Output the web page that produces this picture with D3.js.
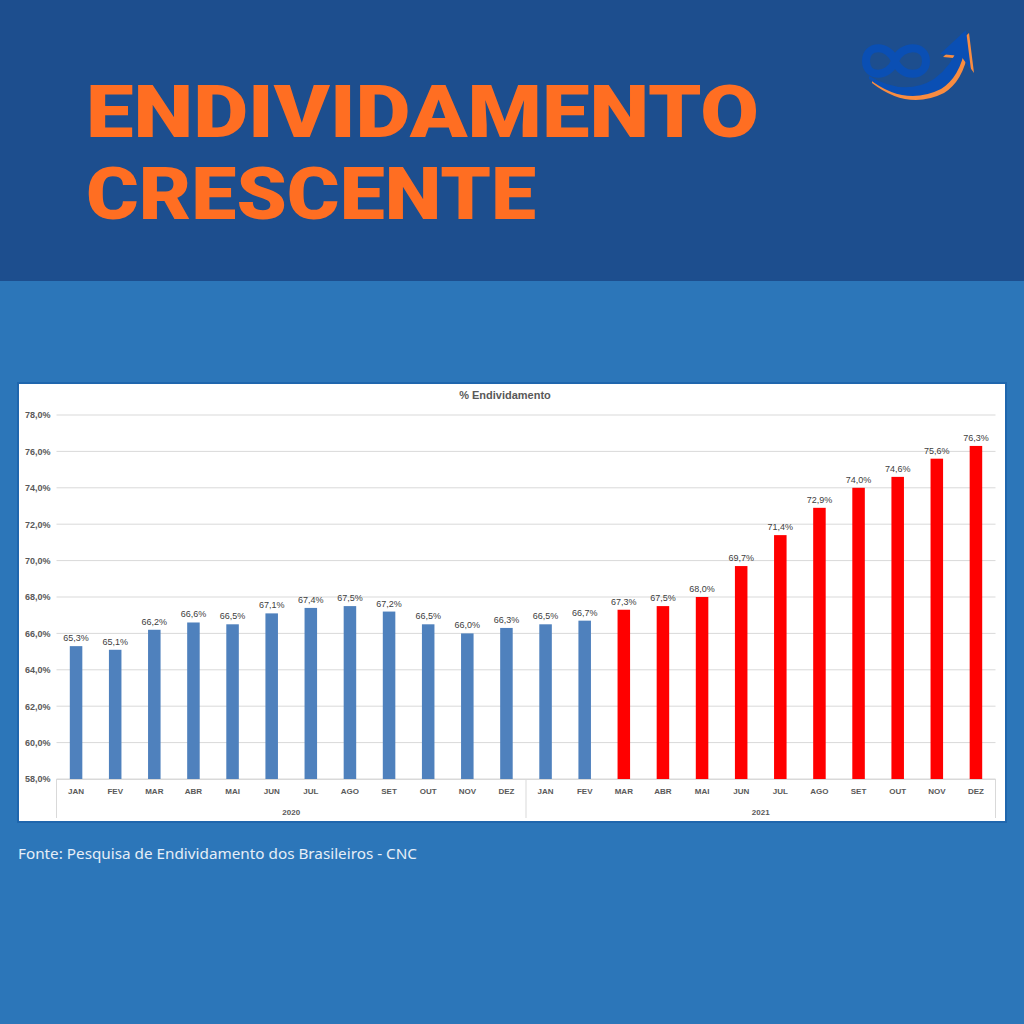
<!DOCTYPE html>
<html>
<head>
<meta charset="utf-8">
<script src="https://cdn.jsdelivr.net/npm/d3@7"></script>
<style>
  body { margin: 0; padding: 0; background: #2c76b9; }
  svg { display: block; }
</style>
</head>
<body>
<script>
// % Endividamento - 2020 / 2021 (CNC)

const months = ["JAN","FEV","MAR","ABR","MAI","JUN","JUL","AGO","SET","OUT","NOV","DEZ"];
const years = ["2020", "2021"];
const values2020 = [65.3, 65.1, 66.2, 66.6, 66.5, 67.1, 67.4, 67.5, 67.2, 66.5, 66.0, 66.3];
const values2021 = [66.5, 66.7, 67.3, 67.5, 68.0, 69.7, 71.4, 72.9, 74.0, 74.6, 75.6, 76.3];
const yTicks = [58, 60, 62, 64, 66, 68, 70, 72, 74, 76, 78];
// bars from this index on are painted red
const highlightFrom = 14;

const W = 1024, H = 1024;

const svg = d3.select("body").append("svg")
    .attr("width", W)
    .attr("height", H);

// background bands
svg.append("rect").attr("x", 0).attr("y", 0).attr("width", W).attr("height", H).attr("fill", "#2c76b9");
svg.append("rect").attr("x", 0).attr("y", 0).attr("width", W).attr("height", 281).attr("fill", "#1d4e8e");

// big title
const titleLines = [
    {text: "ENDIVIDAMENTO", y: 137, len: 673},
    {text: "CRESCENTE", y: 219, len: 450}
];
svg.selectAll(".bigtitle").data(titleLines).enter().append("text")
    .attr("class", "bigtitle")
    .attr("x", 86)
    .attr("y", d => d.y)
    .attr("textLength", d => d.len)
    .attr("lengthAdjust", "spacingAndGlyphs")
    .attr("font-family", "Roboto, 'DejaVu Sans', sans-serif")
    .attr("font-weight", 900)
    .attr("font-size", 72)
    .attr("fill", "#ff6e22")
    .text(d => d.text);

// logo (infinity + rising arrow)
const logo = svg.append("g");
const swoosh = "M869,76 Q905,97 934,79 Q952,66 958,46 L965,48 Q960,77 941,89 Q905,107 869,79 Z";
const head = "M966,30 L971,70 L961,56 L940,54 Z";
logo.append("path").attr("d", swoosh).attr("fill", "#f98c40").attr("transform", "translate(3,4)");
logo.append("path").attr("d", head).attr("fill", "#f98c40").attr("transform", "translate(3,3)");
logo.append("path")
    .attr("d", "M895,61 C889,44 866,44 866,61 C866,78 889,78 895,61 C901,44 926,44 926,61 C926,78 901,78 895,61 Z")
    .attr("fill", "none").attr("stroke", "#0a4fb4").attr("stroke-width", 8);
logo.append("path").attr("d", swoosh).attr("fill", "#0a4fb4");
logo.append("path").attr("d", head).attr("fill", "#0a4fb4");

// chart panel
const panel = {x: 18, y: 383, w: 988, h: 439};
svg.append("rect")
    .attr("x", panel.x).attr("y", panel.y)
    .attr("width", panel.w).attr("height", panel.h)
    .attr("fill", "#ffffff")
    .attr("stroke", "#1f66ad").attr("stroke-width", 2);

const plot = {left: 56.5, right: 995.5, top: 415, bottom: 779};

const data = [];
years.forEach((yr, yi) => {
    const vals = yi === 0 ? values2020 : values2021;
    months.forEach((m, mi) => {
        data.push({key: yr + "-" + m, month: m, year: yr, value: vals[mi]});
    });
});

const x = d3.scaleBand()
    .domain(data.map(d => d.key))
    .range([plot.left, plot.right])
    .paddingInner(0.68)
    .paddingOuter(0.34);

const y = d3.scaleLinear()
    .domain([58, 78])
    .range([plot.bottom, plot.top]);

const g = svg.append("g");

// gridlines
g.selectAll(".grid").data(yTicks).enter().append("line")
    .attr("x1", plot.left).attr("x2", plot.right)
    .attr("y1", d => y(d)).attr("y2", d => y(d))
    .attr("stroke", "#d9d9d9").attr("stroke-width", 1);

// y axis labels
const yAxis = d3.axisLeft(y)
    .tickValues(yTicks)
    .tickSize(0)
    .tickPadding(6)
    .tickFormat(d => d3.format(".1f")(d).replace(".", ",") + "%");
const ya = g.append("g")
    .attr("transform", `translate(${plot.left},0)`)
    .call(yAxis);
ya.select(".domain").remove();
ya.selectAll("text")
    .attr("font-family", "'Liberation Sans', Arial, sans-serif")
    .attr("font-size", 9)
    .attr("font-weight", "bold")
    .attr("fill", "#595959");

// bars
g.selectAll(".bar").data(data).enter().append("rect")
    .attr("class", "bar")
    .attr("x", d => x(d.key))
    .attr("width", x.bandwidth())
    .attr("y", d => y(d.value))
    .attr("height", d => plot.bottom - y(d.value))
    .attr("fill", (d, i) => i >= highlightFrom ? "#ff0000" : "#4f81bd");

// value labels
g.selectAll(".vlab").data(data).enter().append("text")
    .attr("x", d => x(d.key) + x.bandwidth() / 2)
    .attr("y", d => y(d.value) - 5)
    .attr("text-anchor", "middle")
    .attr("font-family", "'Liberation Sans', Arial, sans-serif")
    .attr("font-size", 9)
    .attr("fill", "#404040")
    .text(d => d3.format(".1f")(d.value).replace(".", ",") + "%");

// category axis
const xAxis = d3.axisBottom(x)
    .tickSize(0)
    .tickPadding(9)
    .tickFormat(k => k.split("-")[1]);
const xa = g.append("g")
    .attr("transform", `translate(0,${plot.bottom})`)
    .call(xAxis);
xa.select(".domain").attr("stroke", "#d9d9d9");
xa.selectAll("text")
    .attr("font-family", "'Liberation Sans', Arial, sans-serif")
    .attr("font-size", 8)
    .attr("font-weight", "bold")
    .attr("fill", "#595959");

// year grouping lines and labels
const groupEdges = [plot.left, x(years[1] + "-JAN") - x.step() * x.paddingInner() / 2, plot.right];
g.selectAll(".sep").data(groupEdges).enter().append("line")
    .attr("x1", d => d).attr("x2", d => d)
    .attr("y1", plot.bottom).attr("y2", 818)
    .attr("stroke", "#d9d9d9").attr("stroke-width", 1);

g.selectAll(".yr").data(years).enter().append("text")
    .attr("x", (d, i) => (groupEdges[i] + groupEdges[i + 1]) / 2)
    .attr("y", 815)
    .attr("text-anchor", "middle")
    .attr("font-family", "'Liberation Sans', Arial, sans-serif")
    .attr("font-size", 8)
    .attr("font-weight", "bold")
    .attr("fill", "#595959")
    .text(d => d);

// chart title
svg.append("text")
    .attr("x", 505)
    .attr("y", 399)
    .attr("text-anchor", "middle")
    .attr("font-family", "'Liberation Sans', Arial, sans-serif")
    .attr("font-size", 11)
    .attr("font-weight", "bold")
    .attr("fill", "#595959")
    .text("% Endividamento");

// source
svg.append("text")
    .attr("x", 18)
    .attr("y", 859)
    .attr("textLength", 399)
    .attr("lengthAdjust", "spacingAndGlyphs")
    .attr("font-family", "'Noto Sans', Lato, sans-serif")
    .attr("font-size", 14.5)
    .attr("fill", "#e6eef7")
    .text("Fonte: Pesquisa de Endividamento dos Brasileiros - CNC");
</script>
</body>
</html>
